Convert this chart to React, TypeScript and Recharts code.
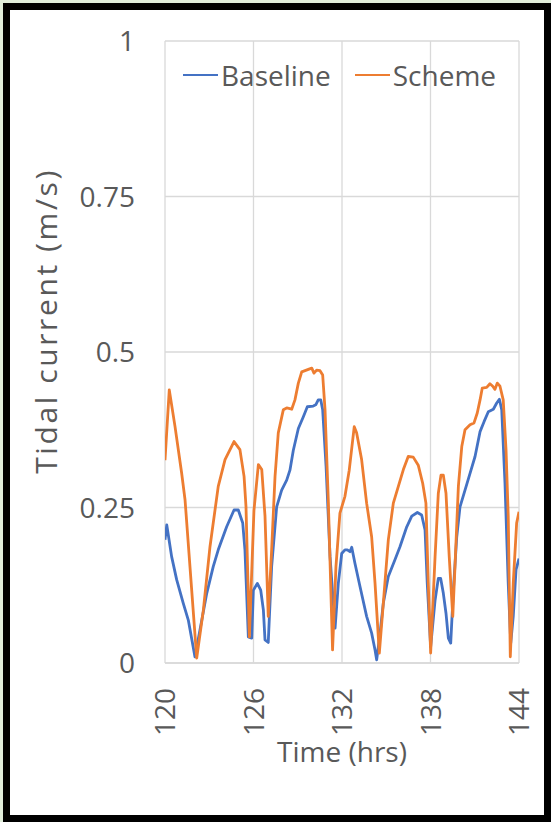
import React from 'react';
import { LineChart, Line, XAxis, YAxis, CartesianGrid } from 'recharts';

const FONT = '"Open Sans", "Noto Sans", sans-serif';
const TEXT = '#595959';
const GRID = '#d9d9d9';
const BLUE = '#4472c4';
const ORANGE = '#ed7d31';

const X_TICKS = [120, 126, 132, 138, 144];
const Y_TICKS = [0, 0.25, 0.5, 0.75, 1];

// Baseline run
const baselineHours = [
  120.0, 120.12, 120.45, 120.79, 121.24, 121.58, 122.03, 122.37, 122.83, 123.27,
  123.61, 124.18, 124.68, 124.97, 125.27, 125.42, 125.65, 125.88, 125.99, 126.26,
  126.49, 126.67, 126.78, 127.0, 127.23, 127.57, 127.91, 128.25, 128.47, 128.7,
  129.04, 129.38, 129.65, 130.05, 130.22, 130.39, 130.56, 130.69, 130.92, 131.19,
  131.53, 131.75, 131.98, 132.2, 132.36, 132.54, 132.66, 132.88, 133.22, 133.67,
  134.01, 134.24, 134.35, 134.58, 134.8, 135.14, 135.59, 135.93, 136.39, 136.73,
  137.11, 137.4, 137.63, 137.78, 138.01, 138.31, 138.53, 138.69, 138.87, 139.05,
  139.21, 139.37, 139.55, 139.78, 140.0, 140.34, 140.68, 141.02, 141.36, 141.63,
  141.92, 142.26, 142.49, 142.67, 142.83, 143.05, 143.27, 143.44, 143.61, 143.8,
  144.0,
];
const baselineSpeed = [
  0.198, 0.222, 0.171, 0.134, 0.096, 0.069, 0.01, 0.053, 0.112, 0.155,
  0.182, 0.219, 0.246, 0.246, 0.225, 0.182, 0.042, 0.04, 0.117, 0.128,
  0.117, 0.085, 0.037, 0.033, 0.155, 0.251, 0.278, 0.294, 0.31, 0.342,
  0.377, 0.396, 0.412, 0.413, 0.415, 0.423, 0.423, 0.407, 0.316, 0.171,
  0.056, 0.128, 0.176, 0.182, 0.182, 0.179, 0.186, 0.16, 0.123, 0.075,
  0.048, 0.021, 0.005, 0.048, 0.096, 0.139, 0.166, 0.187, 0.219, 0.236,
  0.242, 0.238, 0.214, 0.128, 0.026, 0.101, 0.136, 0.136, 0.112, 0.08,
  0.04, 0.032, 0.117, 0.203, 0.251, 0.278, 0.305, 0.332, 0.372, 0.388,
  0.404, 0.408, 0.418, 0.424, 0.407, 0.289, 0.128, 0.032, 0.075, 0.15,
  0.168,
];

// Scheme run
const schemeHours = [
  120.0, 120.29, 120.68, 121.13, 121.36, 122.15, 122.6, 123.05, 123.61, 124.07,
  124.68, 125.08, 125.36, 125.49, 125.72, 126.03, 126.33, 126.56, 126.78, 127.0,
  127.23, 127.46, 127.68, 128.02, 128.25, 128.59, 128.81, 129.04, 129.27, 129.72,
  129.95, 130.1, 130.28, 130.51, 130.69, 130.85, 131.07, 131.36, 131.59, 131.86,
  132.2, 132.49, 132.65, 132.83, 132.99, 133.33, 133.67, 134.01, 134.24, 134.53,
  134.8, 135.14, 135.48, 135.82, 136.16, 136.49, 136.83, 137.17, 137.47, 137.69,
  137.85, 138.01, 138.31, 138.53, 138.71, 138.87, 139.05, 139.27, 139.51, 139.66,
  139.89, 140.12, 140.34, 140.68, 140.95, 141.17, 141.36, 141.51, 141.81, 142.03,
  142.22, 142.37, 142.53, 142.71, 142.93, 143.12, 143.27, 143.41, 143.61, 143.84,
  144.0,
];
const schemeSpeed = [
  0.326, 0.439, 0.38, 0.305, 0.262, 0.008, 0.085, 0.187, 0.284, 0.327,
  0.356, 0.343, 0.3, 0.252, 0.042, 0.245, 0.319, 0.311, 0.236, 0.075,
  0.182, 0.3, 0.37, 0.407, 0.41, 0.408, 0.423, 0.45, 0.468, 0.472,
  0.474, 0.466, 0.471, 0.47, 0.463, 0.407, 0.262, 0.021, 0.155, 0.241,
  0.268, 0.31, 0.343, 0.38, 0.37, 0.327, 0.257, 0.203, 0.128, 0.016,
  0.096, 0.198, 0.257, 0.284, 0.311, 0.332, 0.331, 0.318, 0.289, 0.257,
  0.128, 0.016, 0.171, 0.273, 0.302, 0.302, 0.273, 0.171, 0.075, 0.155,
  0.284, 0.348, 0.375, 0.383, 0.386, 0.402, 0.423, 0.442, 0.443, 0.449,
  0.445, 0.44, 0.45, 0.445, 0.423, 0.343, 0.236, 0.01, 0.128, 0.225,
  0.243,
];

const baselineData = baselineHours.map((t, i) => ({ t, v: baselineSpeed[i] }));
const schemeData = schemeHours.map((t, i) => ({ t, v: schemeSpeed[i] }));

const SERIES = [
  { name: 'Baseline', color: BLUE },
  { name: 'Scheme', color: ORANGE },
];

function YTick({ x, y, payload }: any) {
  return (
    <text x={x} y={y} dy={10} textAnchor="end" fill={TEXT} fontSize={28} fontFamily={FONT}>
      {payload.value}
    </text>
  );
}

function XTick({ x, y, payload }: any) {
  return (
    <text
      x={x}
      y={y}
      dy={10}
      textAnchor="end"
      transform={`rotate(-90, ${x}, ${y})`}
      fill={TEXT}
      fontSize={28}
      fontFamily={FONT}
    >
      {payload.value}
    </text>
  );
}

function LegendBox() {
  return (
    <div
      style={{
        position: 'absolute',
        left: 183,
        top: 58,
        display: 'flex',
        fontFamily: FONT,
        fontSize: 28,
        color: TEXT,
        lineHeight: '34px',
      }}
    >
      {SERIES.map((s, i) => (
        <div key={s.name} style={{ display: 'flex', alignItems: 'center', marginLeft: i ? 24 : 0 }}>
          <span style={{ display: 'inline-block', width: 35, height: 2.5, background: s.color, marginRight: 3 }} />
          <span>{s.name}</span>
        </div>
      ))}
    </div>
  );
}

export default function App() {
  return (
    <div style={{ position: 'fixed', left: 0, top: 0, width: 551, height: 822, background: '#e1eedb' }}>
      <div
        style={{
          position: 'absolute',
          left: 3,
          top: 3,
          width: 548,
          height: 819,
          boxSizing: 'border-box',
          border: '7px solid #000',
          background: '#fff',
        }}
      />
      <div style={{ position: 'absolute', left: 0, top: 0 }}>
        <LineChart width={551} height={822} margin={{ top: 41, right: 32, left: 0, bottom: 0 }}>
          <CartesianGrid stroke={GRID} strokeWidth={1.3} />
          <XAxis
            type="number"
            dataKey="t"
            domain={[120, 144]}
            ticks={X_TICKS}
            allowDataOverflow
            height={159}
            stroke={GRID}
            strokeWidth={1.3}
            tickLine={false}
            tickSize={0}
            tickMargin={25}
            tick={<XTick />}
            label={({ viewBox }: any) => (
              <text
                x={viewBox.x + viewBox.width / 2}
                y={viewBox.y + 99}
                textAnchor="middle"
                fill={TEXT}
                fontSize={28}
                fontFamily={FONT}
              >
                Time (hrs)
              </text>
            )}
          />
          <YAxis
            type="number"
            domain={[0, 1]}
            ticks={Y_TICKS}
            width={165}
            axisLine={false}
            tickLine={false}
            tickSize={0}
            tickMargin={30}
            tick={<YTick />}
            label={({ viewBox }: any) => {
              const cx = 57;
              const cy = viewBox.y + viewBox.height / 2 - 31;
              return (
                <text
                  x={cx}
                  y={cy}
                  textAnchor="middle"
                  transform={`rotate(-90, ${cx}, ${cy})`}
                  fill={TEXT}
                  fontSize={30}
                  letterSpacing={2.6}
                  fontFamily={FONT}
                >
                  Tidal current (m/s)
                </text>
              );
            }}
          />
          <Line
            data={baselineData}
            dataKey="v"
            name="Baseline"
            type="linear"
            stroke={BLUE}
            strokeWidth={2.8}
            strokeLinejoin="round"
            dot={false}
            isAnimationActive={false}
          />
          <Line
            data={schemeData}
            dataKey="v"
            name="Scheme"
            type="linear"
            stroke={ORANGE}
            strokeWidth={2.8}
            strokeLinejoin="round"
            dot={false}
            isAnimationActive={false}
          />
        </LineChart>
      </div>
      <LegendBox />
    </div>
  );
}
